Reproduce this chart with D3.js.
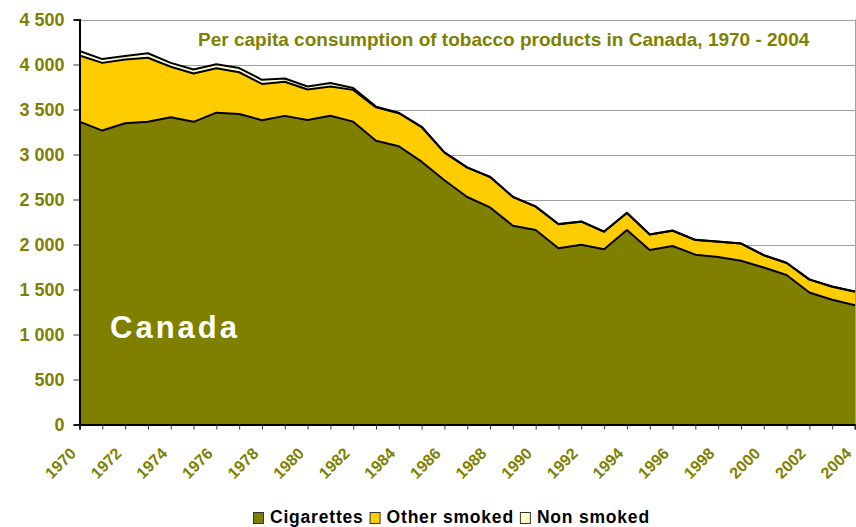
<!DOCTYPE html>
<html>
<head>
<meta charset="utf-8">
<script src="https://cdn.jsdelivr.net/npm/d3@7"></script>
<style>
  html, body { margin: 0; padding: 0; background: #fff; }
  svg { display: block; font-family: Arial, "Liberation Sans", sans-serif; }
</style>
</head>
<body>
<svg id="chart" width="856" height="527"></svg>
<script>
const years = [1970,1971,1972,1973,1974,1975,1976,1977,1978,1979,1980,1981,1982,1983,1984,1985,1986,1987,1988,1989,1990,1991,1992,1993,1994,1995,1996,1997,1998,1999,2000,2001,2002,2003,2004];
const cigarettes = [3366,3266,3348,3363,3415,3363,3465,3450,3381,3429,3383,3430,3365,3153,3092,2920,2714,2528,2412,2209,2161,1958,1998,1947,2161,1939,1983,1887,1860,1820,1745,1661,1466,1386,1325];
const otherSmoked = [734,752,707,712,560,537,493,464,403,379,339,325,353,371,367,385,306,327,338,319,260,267,256,195,189,171,170,163,171,190,135,134,144,145,150];
const nonSmoked = [50,42,40,50,43,45,45,46,46,37,33,40,22,8,5,3,3,2,2,2,2,2,2,2,2,2,2,2,2,2,2,2,2,2,2];
const seriesNames = ["Cigarettes", "Other smoked", "Non smoked"];
const yTickValues = [0,500,1000,1500,2000,2500,3000,3500,4000,4500];
const yTickLabels = ["0","500","1 000","1 500","2 000","2 500","3 000","3 500","4 000","4 500"];
const xTickLabels = ["1970","1972","1974","1976","1978","1980","1982","1984","1986","1988","1990","1992","1994","1996","1998","2000","2002","2004"];
const chartTitle = "Per capita consumption of tobacco products in Canada, 1970 - 2004";
const regionLabel = "Canada";

const colors = ["#808000", "#FFCC00", "#FFFFCC"];
const olive = "#808000";

const svg = d3.select("#chart");
const mLeft = 79.5, mRight = 855, mTop = 19.5, mBottom = 424.5;

const x = d3.scaleLinear().domain([years[0], years[years.length - 1]]).range([mLeft, mRight]);
const y = d3.scaleLinear().domain([0, 4500]).range([mBottom, mTop]);

const table = years.map((yr, i) => ({year: yr, "Cigarettes": cigarettes[i], "Other smoked": otherSmoked[i], "Non smoked": nonSmoked[i]}));
const stacked = d3.stack().keys(seriesNames)(table);

// gridlines
svg.append("g").selectAll("line").data(yTickValues.filter(v => v > 0)).join("line")
  .attr("x1", mLeft).attr("x2", mRight)
  .attr("y1", d => Math.round(y(d)) + 0.5).attr("y2", d => Math.round(y(d)) + 0.5)
  .attr("stroke", "#a0a0a0").attr("stroke-width", 1);
// right border
svg.append("line").attr("x1", mRight + 0.5).attr("x2", mRight + 0.5).attr("y1", y(4500)).attr("y2", mBottom)
  .attr("stroke", "#a0a0a0");

// areas
const area = d3.area().x(d => x(d.data.year)).y0(d => y(d[0])).y1(d => y(d[1]));
svg.append("g").selectAll("path").data(stacked.slice().reverse()).join("path")
  .attr("d", area)
  .attr("fill", d => colors[seriesNames.indexOf(d.key)]);

// top outlines
const line = d3.line().x(d => x(d.data.year)).y(d => y(d[1]));
svg.append("g").selectAll("path").data(stacked).join("path")
  .attr("d", line)
  .attr("fill", "none").attr("stroke", "#000").attr("stroke-width", 2).attr("stroke-linejoin", "round");

// y axis
const yAxis = d3.axisLeft(y).tickValues(yTickValues).tickSize(6).tickPadding(9)
  .tickFormat((d, i) => yTickLabels[i]);
const gy = svg.append("g").attr("transform", `translate(${mLeft},0)`).call(yAxis);
gy.select(".domain").attr("stroke", "#000").attr("stroke-width", 2);
gy.selectAll(".tick line").attr("stroke", "#333");
gy.selectAll(".tick text").attr("fill", olive).attr("font-size", 18).attr("font-weight", "bold")
  .attr("font-family", "Arial, 'Liberation Sans', sans-serif");

// x axis
const xAxis = d3.axisBottom(x).tickValues(years).tickSize(5).tickFormat(d => {
  const s = String(d); return xTickLabels.includes(s) ? s : "";
});
const gx = svg.append("g").attr("transform", `translate(0,${mBottom})`).call(xAxis);
gx.select(".domain").attr("stroke", "#000").attr("stroke-width", 2);
gx.selectAll(".tick line").attr("stroke", "#333");
gx.selectAll(".tick text")
  .attr("fill", olive).attr("font-size", 16).attr("font-weight", "bold")
  .attr("font-family", "Arial, 'Liberation Sans', sans-serif")
  .attr("text-anchor", "end")
  .attr("transform", "translate(-7,26) rotate(-45)")
  .attr("dy", "0.35em").attr("y", 0);

// title
svg.append("text").attr("x", 198).attr("y", 46)
  .attr("fill", olive).attr("font-size", 19).attr("font-weight", "bold")
  .text(chartTitle);

// region label
svg.append("text").attr("x", 110).attr("y", 338)
  .attr("fill", "#fff").attr("font-size", 31).attr("font-weight", "bold")
  .attr("letter-spacing", 3)
  .text(regionLabel);

// legend
const lg = svg.append("g");
let cx = 0;
seriesNames.forEach((name, i) => {
  const it = lg.append("g").attr("transform", `translate(${cx},0)`);
  it.append("rect").attr("x", 0.5).attr("y", -10.5).attr("width", 10).attr("height", 11)
    .attr("fill", colors[i]).attr("stroke", "#333").attr("stroke-width", 1);
  const t = it.append("text").attr("x", 17).attr("y", 0).attr("fill", "#000")
    .attr("font-size", 17.5).attr("font-weight", "bold").attr("letter-spacing", 0.8).text(name);
  cx += 17 + t.node().getComputedTextLength() + 6;
});
lg.attr("transform", `translate(253,523)`);
</script>
</body>
</html>
